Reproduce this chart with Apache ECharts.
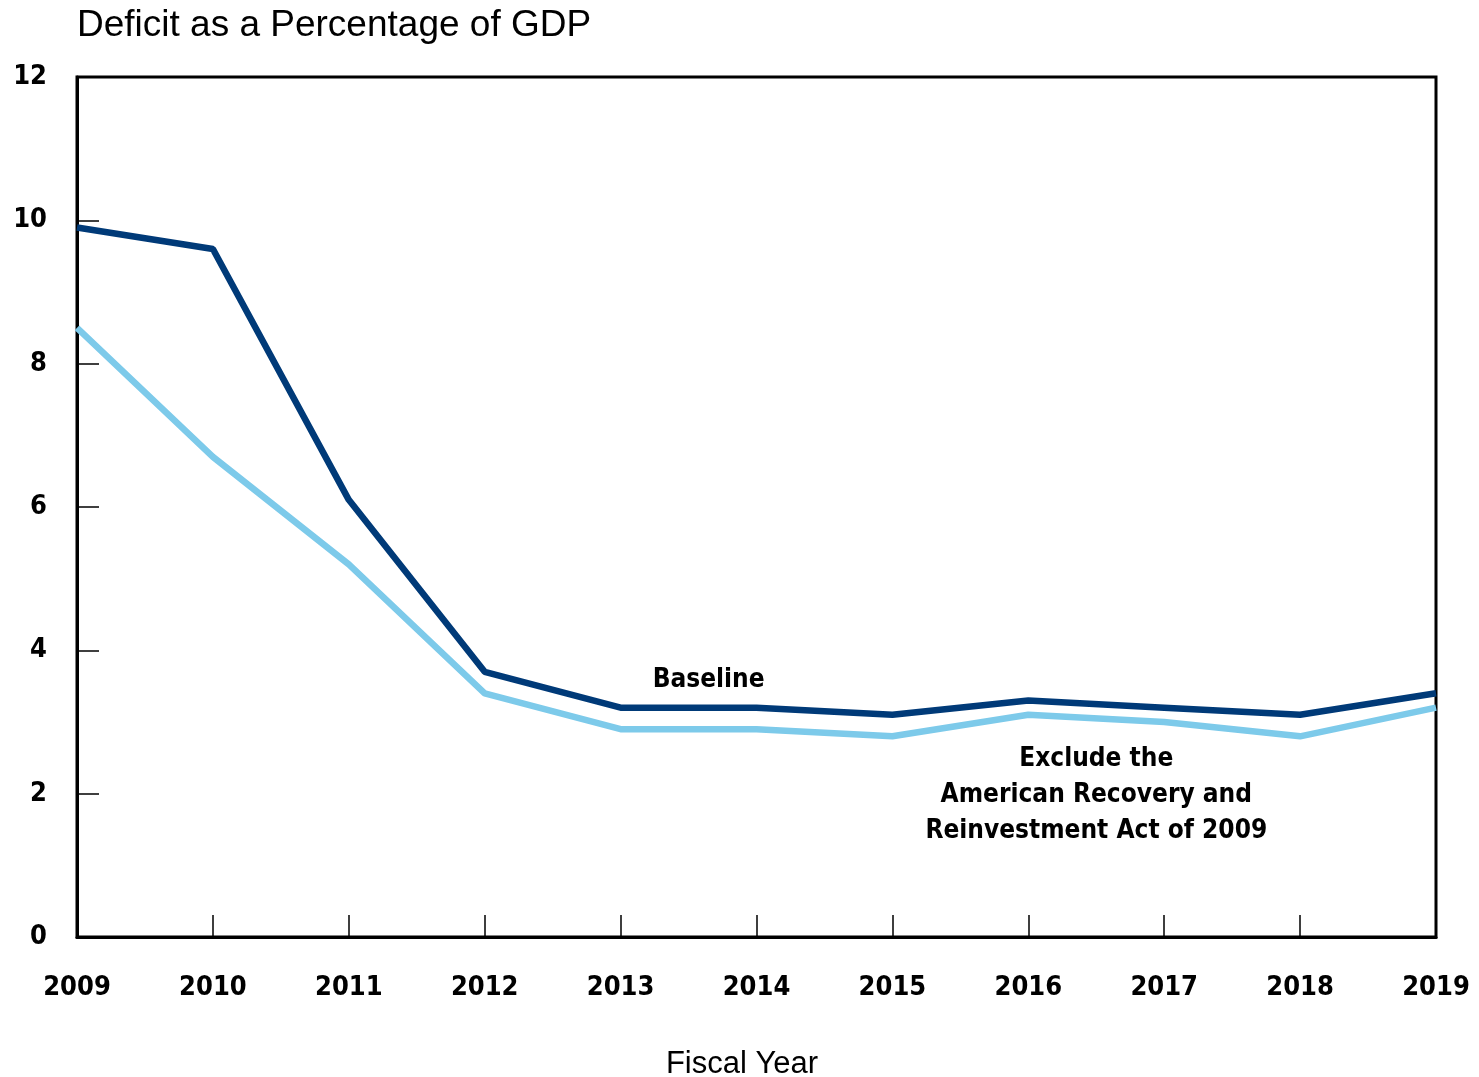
<!DOCTYPE html>
<html>
<head>
<meta charset="utf-8">
<script src="https://cdn.jsdelivr.net/npm/echarts@6/dist/echarts.min.js"></script>
<style>
  html, body { margin: 0; padding: 0; background: #fff; }
  #chart { width: 1479px; height: 1077px; }
</style>
</head>
<body>
<div id="chart"></div>
<script>
// 财年
var years = ['2009', '2010', '2011', '2012', '2013', '2014', '2015', '2016', '2017', '2018', '2019']
// 基线
var baseline = [9.9, 9.6, 6.1, 3.7, 3.2, 3.2, 3.1, 3.3, 3.2, 3.1, 3.4]
// 不含 ARRA
var excludeArra = [8.5, 6.7, 5.2, 3.4, 2.9, 2.9, 2.8, 3.1, 3.0, 2.8, 3.2]
var yTicks = [0, 2, 4, 6, 8, 10, 12]

var labelFont = 'DejaVu Sans Condensed'
var myChart = echarts.init(document.getElementById('chart'))
var option = {
  backgroundColor: '#fff',
  animation: false,
  title: {
    text: 'Deficit as a Percentage of GDP',
    left: 72,
    top: 2,
    textStyle: {
      fontFamily: 'Liberation Sans',
      fontWeight: 'normal',
      fontSize: 37,
      color: '#000'
    }
  },
  // 图表边距
  grid: {
    left: 77,
    right: 43,
    top: 77,
    bottom: 140,
    containLabel: false,
    outerBoundsMode: 'none',
    show: true,
    borderColor: '#000',
    borderWidth: 3
  },
  xAxis: {
    type: 'category',
    data: years,
    boundaryGap: false,
    name: 'Fiscal Year',
    nameLocation: 'middle',
    nameGap: 112,
    nameTextStyle: {
      fontFamily: 'Liberation Sans',
      fontSize: 31,
      color: '#000',
      padding: [0, 29, 0, 0]
    },
    axisLine: { lineStyle: { color: '#000', width: 3 } },
    axisTick: {
      inside: true,
      length: 22,
      lineStyle: { color: '#000', width: 1.5 }
    },
    axisLabel: {
      margin: 37,
      fontFamily: labelFont,
      fontWeight: 'bold',
      fontSize: 27,
      color: '#000'
    },
    splitLine: { show: false }
  },
  yAxis: {
    type: 'value',
    min: yTicks[0],
    max: yTicks[yTicks.length - 1],
    interval: 2,
    axisLine: { show: true, lineStyle: { color: '#000', width: 3 } },
    axisTick: {
      show: true,
      inside: true,
      length: 22,
      lineStyle: { color: '#000', width: 1.5 }
    },
    axisLabel: {
      margin: 30,
      padding: [4, 0, 0, 0],
      fontFamily: labelFont,
      fontWeight: 'bold',
      fontSize: 27,
      color: '#000'
    },
    splitLine: { show: false }
  },
  series: [
    {
      name: 'Exclude ARRA',
      type: 'line',
      data: excludeArra,
      symbol: 'none',
      lineStyle: { color: '#7DCAEA', width: 6.5 },
      markPoint: {
        symbol: 'circle',
        symbolSize: 0,
        data: [{ coord: ['2016', 3.1] }],
        label: {
          show: true,
          formatter: 'Exclude the\nAmerican Recovery and\nReinvestment Act of 2009',
          offset: [68, 80],
          align: 'center',
          lineHeight: 36,
          fontFamily: labelFont,
          fontWeight: 'bold',
          fontSize: 26,
          color: '#000'
        }
      }
    },
    {
      name: 'Baseline',
      type: 'line',
      data: baseline,
      symbol: 'none',
      lineStyle: { color: '#003A78', width: 6.5 },
      markPoint: {
        symbol: 'circle',
        symbolSize: 0,
        data: [{ coord: ['2013', 3.2] }],
        label: {
          show: true,
          formatter: 'Baseline',
          offset: [88, -27],
          align: 'center',
          fontFamily: labelFont,
          fontWeight: 'bold',
          fontSize: 26,
          color: '#000'
        }
      }
    }
  ]
}
myChart.setOption(option)
</script>
</body>
</html>
